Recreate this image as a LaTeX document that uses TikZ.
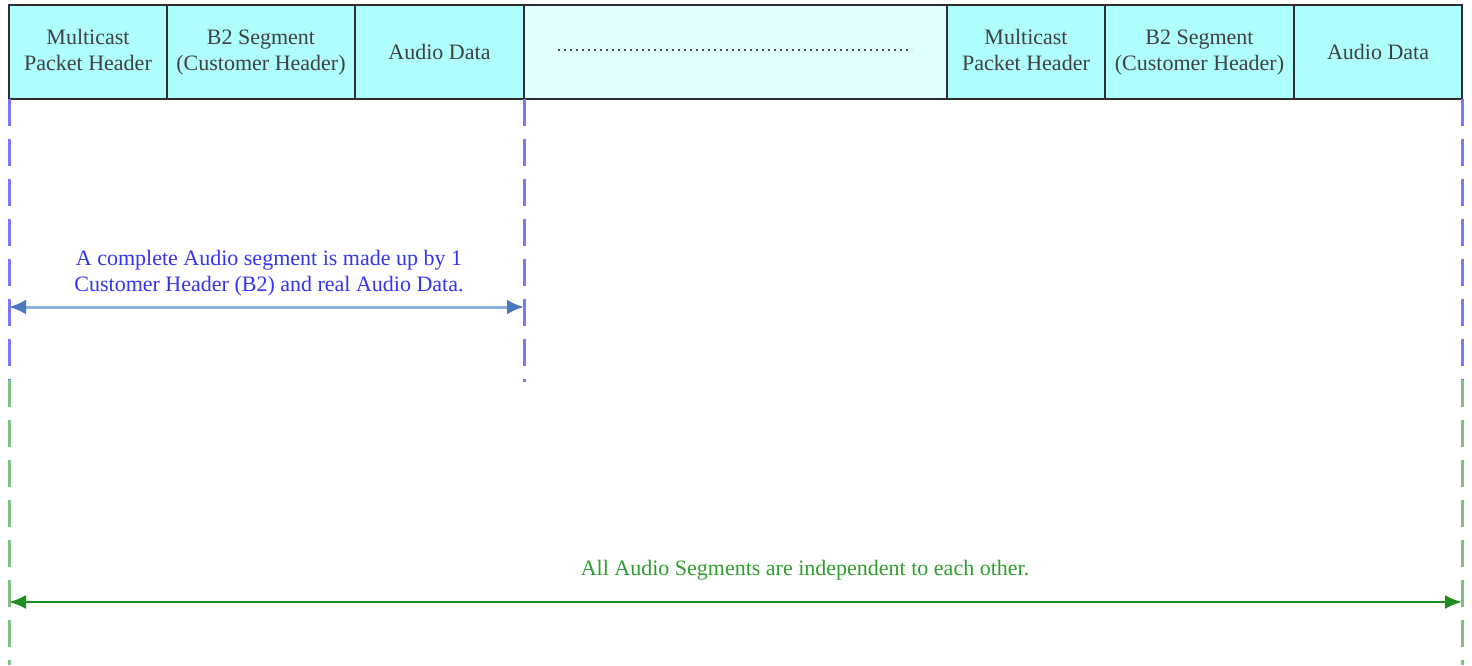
\documentclass[tikz,border=0pt]{standalone}
\usepackage{fontspec}
\setmainfont{Liberation Serif}
\usetikzlibrary{arrows.meta}
\definecolor{cellfill}{HTML}{AFFFFF}
\definecolor{gapfill}{HTML}{E0FFFF}
\definecolor{cellline}{HTML}{2E2E2E}
\definecolor{segblue}{HTML}{7878F8}
\definecolor{seglinkline}{HTML}{8FB0DC}
\definecolor{seghead}{HTML}{4A78BE}
\definecolor{segtext}{HTML}{3434F4}
\definecolor{allgreen}{HTML}{80C080}
\definecolor{allline}{HTML}{1E8C1E}
\definecolor{alltext}{HTML}{2E9E2E}
\tikzset{
  cell/.style={draw=cellline, line width=2pt, fill=cellfill, inner sep=0pt,
    minimum height=94pt, align=center, text=black!75,
    font=\fontsize{22}{26}\selectfont},
  gapcell/.style={cell, fill=gapfill},
  segguide/.style={draw=segblue, line width=3pt, dash pattern=on 27pt off 13pt},
  allguide/.style={draw=allgreen, line width=3pt, dash pattern=on 27pt off 13pt},
  segspan/.style={draw=seglinkline, line width=3pt,
    {Latex[length=17pt,width=15pt,color=seghead]}-{Latex[length=17pt,width=15pt,color=seghead]}},
  allspan/.style={draw=allline, line width=2.4pt,
    {Latex[length=17pt,width=14pt]}-{Latex[length=17pt,width=14pt]}},
  note/.style={align=center, font=\fontsize{22}{26}\selectfont},
}
\begin{document}
\begin{tikzpicture}[x=1pt, y=-1pt]
\useasboundingbox (0,0) rectangle (1472,665);
% packet fields
\node[cell, minimum width=158pt] (mph1) at (88,52) {\strut Multicast\\\strut Packet Header};
\node[cell, minimum width=188pt] (b21) at (261,52) {\strut B2 Segment\\\strut (Customer Header)};
\node[cell, minimum width=169pt] (ad1) at (439.5,52) {Audio Data};
\node[gapcell, minimum width=423pt] (gap) at (735.5,52) {};
\node[cell, minimum width=158pt] (mph2) at (1026,52) {\strut Multicast\\\strut Packet Header};
\node[cell, minimum width=189pt] (b22) at (1199.5,52) {\strut B2 Segment\\\strut (Customer Header)};
\node[cell, minimum width=168pt] (ad2) at (1378,52) {Audio Data};
\draw[black!70, line width=1.6pt, dash pattern=on 1.6pt off 4.4pt] (558,50) -- (912,50);
% guide coordinates
\coordinate (sL) at (9,99);
\coordinate (sR) at (524,99);
\coordinate (eR) at (1462,99);
\coordinate (sLb) at (9,382);
\coordinate (sRb) at (524,382);
\coordinate (eRb) at (1462,380);
\coordinate (gL) at (9,380);
\coordinate (gLb) at (9,665);
\coordinate (gRb) at (1462,665);
% segment guides
\draw[segguide] (sL) -- (sLb);
\draw[segguide] (sR) -- (sRb);
\draw[segguide] (eR) -- (eRb);
\draw[allguide] (gL) -- (gLb);
\draw[allguide] (eRb) -- (gRb);
% span arrows
\coordinate (a1) at (9,307);
\coordinate (a2) at (524,307);
\coordinate (b1) at (9,602);
\coordinate (b2) at (1462,602);
\draw[segspan] (a1) -- (a2);
\draw[allspan] (b1) -- (b2);
\node[note, text=segtext] (segnote) at (269,273) {A complete Audio segment is made up by 1\\Customer Header (B2) and real Audio Data.};
\node[note, text=alltext] (allnote) at (805,570) {All Audio Segments are independent to each other.};
\end{tikzpicture}
\end{document}
